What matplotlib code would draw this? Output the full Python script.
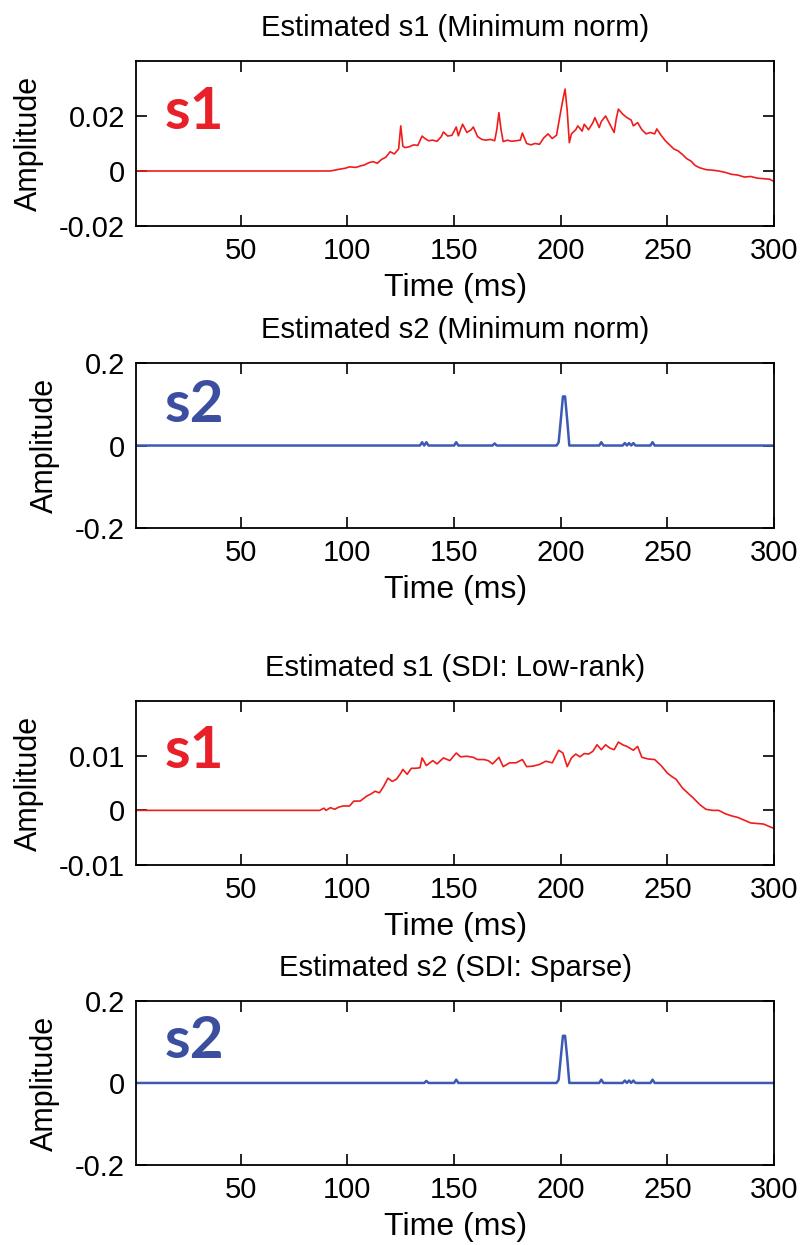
import matplotlib
matplotlib.use("Agg")
import matplotlib.pyplot as plt

# ---- data (time in ms, amplitude) ----
t_s1_mn = [1, 92, 94, 96, 99, 101, 104, 106, 108, 110, 112, 114, 116, 118, 120, 122,
           124, 125, 126, 127, 129, 131, 133, 135, 136, 138, 140, 142, 144, 145, 147,
           149, 151, 152, 153, 154, 156, 158, 159, 161, 163, 165, 167, 169, 170, 171,
           172, 173, 175, 177, 179, 181, 182, 184, 186, 188, 190, 192, 194, 196, 198,
           200, 201, 202, 203, 204, 205, 207, 208, 210, 211, 213, 215, 216, 218, 219,
           221, 223, 225, 226, 227, 229, 231, 233, 234, 236, 238, 240, 242, 244, 245,
           247, 249, 251, 253, 255, 257, 259, 261, 263, 265, 268, 271, 274, 277, 280,
           283, 286, 289, 292, 295, 298, 300]
s1_mn = [0, 0, 0.0003, 0.0006, 0.0010, 0.0015, 0.0013, 0.0018, 0.0022, 0.0030, 0.0034,
         0.0028, 0.0042, 0.0050, 0.0070, 0.0062, 0.0080, 0.0164, 0.0090, 0.0085, 0.0088,
         0.0095, 0.0093, 0.0127, 0.0120, 0.0110, 0.0112, 0.0108, 0.0125, 0.0142, 0.0127,
         0.0130, 0.0160, 0.0128, 0.0150, 0.0170, 0.0140, 0.0150, 0.0160, 0.0125, 0.0115,
         0.0112, 0.0115, 0.0110, 0.0150, 0.0212, 0.0150, 0.0107, 0.0112, 0.0108, 0.0110,
         0.0112, 0.0138, 0.0100, 0.0095, 0.0100, 0.0097, 0.0120, 0.0135, 0.0118, 0.0130,
         0.0218, 0.0260, 0.0298, 0.0220, 0.0103, 0.0135, 0.0150, 0.0164, 0.0145, 0.0170,
         0.0150, 0.0175, 0.0194, 0.0158, 0.0180, 0.0200, 0.0170, 0.0140, 0.0190, 0.0225,
         0.0207, 0.0194, 0.0185, 0.0164, 0.0176, 0.0150, 0.0135, 0.0140, 0.0135, 0.0153,
         0.0130, 0.0110, 0.0095, 0.0080, 0.0073, 0.0060, 0.0045, 0.0036, 0.0020, 0.0012,
         0.0005, 0.0003, 0.0000, -0.0005, -0.0012, -0.0015, -0.0022, -0.0020, -0.0026,
         -0.0028, -0.0030, -0.0039]

t_s2_mn = [1, 134, 135, 136, 137, 138, 150, 151, 152, 168, 169, 170, 198, 199, 200, 201,
           202, 203, 204, 218, 219, 220, 229, 230, 231, 232, 233, 234, 235, 242, 243, 244, 300]
s2_mn = [0, 0, 0.008, 0, 0.008, 0, 0, 0.008, 0, 0, 0.005, 0, 0, 0.008, 0.062, 0.119,
         0.119, 0.062, 0, 0, 0.008, 0, 0, 0.006, 0, 0.006, 0, 0.006, 0, 0, 0.008, 0, 0]

t_s1_sdi = [1, 87, 89, 90, 92, 94, 96, 98, 101, 103, 106, 109, 111, 113, 115, 117, 119,
            121, 123, 125, 126, 128, 130, 132, 134, 135, 137, 140, 142, 145, 148, 151,
            153, 156, 159, 161, 164, 166, 168, 171, 173, 176, 179, 182, 184, 187, 190,
            193, 196, 199, 201, 203, 205, 207, 209, 211, 213, 215, 217, 219, 221, 223,
            225, 227, 229, 231, 234, 236, 238, 241, 244, 247, 250, 252, 254, 257, 260,
            262, 265, 268, 271, 274, 277, 280, 283, 286, 289, 292, 295, 298, 300]
s1_sdi = [0, 0, 0.0004, 0.0000, 0.0005, 0.0002, 0.0006, 0.0008, 0.0008, 0.0017, 0.0017,
          0.0026, 0.0030, 0.0035, 0.0032, 0.0044, 0.0059, 0.0053, 0.0057, 0.0068, 0.0075,
          0.0066, 0.0077, 0.0077, 0.0078, 0.0096, 0.0082, 0.0091, 0.0085, 0.0096, 0.0091,
          0.0105, 0.0098, 0.0099, 0.0097, 0.0093, 0.0093, 0.0091, 0.0085, 0.0097, 0.0080,
          0.0087, 0.0087, 0.0093, 0.0080, 0.0081, 0.0084, 0.0090, 0.0087, 0.0110, 0.0105,
          0.0080, 0.0096, 0.0103, 0.0098, 0.0104, 0.0103, 0.0108, 0.0120, 0.0111, 0.0120,
          0.0114, 0.0111, 0.0125, 0.0120, 0.0117, 0.0110, 0.0117, 0.0097, 0.0094, 0.0093,
          0.0082, 0.0068, 0.0062, 0.0057, 0.0041, 0.0030, 0.0023, 0.0011, 0.0002, 0.0000,
          0.0000, -0.0006, -0.0010, -0.0013, -0.0018, -0.0023, -0.0024, -0.0025, -0.0030,
          -0.0033]

t_s2_sdi = [1, 136, 137, 138, 150, 151, 152, 198, 199, 200, 201, 202, 203, 204, 218, 219,
            220, 229, 230, 231, 232, 233, 234, 235, 242, 243, 244, 300]
s2_sdi = [0, 0, 0.005, 0, 0, 0.008, 0, 0, 0.008, 0.062, 0.115, 0.115, 0.062, 0, 0, 0.008,
          0, 0, 0.006, 0, 0.006, 0, 0.006, 0, 0, 0.008, 0, 0]

titles = ["Estimated s1 (Minimum norm)", "Estimated s2 (Minimum norm)",
          "Estimated s1 (SDI: Low-rank)", "Estimated s2 (SDI: Sparse)"]
tags = ["s1", "s2", "s1", "s2"]
ylims = [(-0.02, 0.04), (-0.2, 0.2), (-0.01, 0.02), (-0.2, 0.2)]
yticks = [[-0.02, 0, 0.02], [-0.2, 0, 0.2], [-0.01, 0, 0.01], [-0.2, 0, 0.2]]
yticklabels = [["-0.02", "0", "0.02"], ["-0.2", "0", "0.2"],
               ["-0.01", "0", "0.01"], ["-0.2", "0", "0.2"]]
xticks = [50, 100, 150, 200, 250, 300]

series = [(t_s1_mn, s1_mn), (t_s2_mn, s2_mn), (t_s1_sdi, s1_sdi), (t_s2_sdi, s2_sdi)]

RED = "#f01c1c"
BLUE = "#3c5ab4"
TAG_COLORS = {"s1": "#e8202a", "s2": "#3c4ea0"}

plt.rcParams["font.family"] = ["Liberation Sans", "DejaVu Sans"]

fig = plt.figure(figsize=(8.01, 12.45), dpi=100)
# axes boxes in figure fractions: left, bottom, width, height
boxes = [(0.170, 0.8185, 0.7965, 0.1325),
         (0.170, 0.5759, 0.7965, 0.1325),
         (0.170, 0.3052, 0.7965, 0.1317),
         (0.170, 0.0643, 0.7965, 0.1317)]
tag_y = [0.59, 0.64, 0.59, 0.65]

for i, box in enumerate(boxes):
    ax = fig.add_axes(box)
    t, v = series[i]
    is_s1 = tags[i] == "s1"
    ax.plot(t, v, color=RED if is_s1 else BLUE, lw=1.2 if is_s1 else 1.8)
    ax.set_xlim(1, 300)
    ax.set_ylim(*ylims[i])
    ax.set_xticks(xticks)
    ax.set_yticks(yticks[i])
    ax.set_yticklabels(yticklabels[i])
    ax.tick_params(direction="in", length=8, width=1.2, top=True, right=True,
                   labelsize=21, pad=8)
    for sp in ax.spines.values():
        sp.set_linewidth(1.3)
    ax.set_xlabel("Time (ms)", fontsize=23, labelpad=6)
    ax.set_ylabel("Amplitude", fontsize=22, labelpad=11)
    ax.set_title(titles[i], fontsize=21, pad=18)
    ax.text(0.045, tag_y[i], tags[i], transform=ax.transAxes, fontsize=42,
            fontweight="bold", family=["Lato", "DejaVu Sans"],
            color=TAG_COLORS[tags[i]], va="baseline", ha="left")

fig.savefig("out.png", dpi=100)
